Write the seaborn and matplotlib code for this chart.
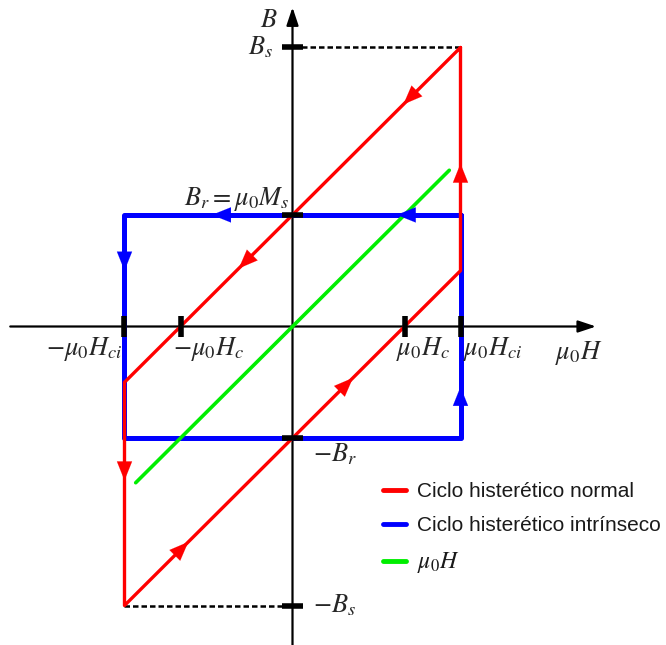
import numpy as np
import pandas as pd
import matplotlib
matplotlib.use("Agg")
import matplotlib.pyplot as plt
from matplotlib.lines import Line2D
import seaborn as sns

# Characteristic values of the loop (normalised units)
h_c = 1.0      # coercive field  mu0*Hc
h_ci = 1.5     # intrinsic coercive field mu0*Hci
b_r = 1.0      # remanence Br = mu0*Ms
b_s = 2.5      # saturation Bs

# Normal hysteresis loop (B vs mu0 H)
red_h = [1.5, -1.5, -1.5, 1.5, 1.5]
red_b = [2.5, -0.5, -2.5, 0.5, 2.5]
# Intrinsic hysteresis loop (mu0 M vs mu0 H)
blue_h = [1.5, -1.5, -1.5, 1.5, 1.5]
blue_b = [1.0, 1.0, -1.0, -1.0, 1.0]
# Vacuum contribution mu0 H
green_h = [-1.4, 1.4]
green_b = [-1.4, 1.4]

RED = "#ff0000"
BLUE = "#0000ff"
GREEN = "#00ee00"

sns.set_theme(style="white")
plt.rcParams["mathtext.fontset"] = "stix"
plt.rcParams["font.family"] = ["Liberation Sans", "DejaVu Sans"]

W, H = 666, 645
ox, oy = 292.5, 326.5      # origin in pixels
sx, sy = 112.0, 111.6      # pixels per unit

fig = plt.figure(figsize=(W / 100, H / 100), dpi=100)
ax = fig.add_axes([0, 0, 1, 1])
ax.set_axis_off()
ax.set_xlim(-ox / sx, (W - ox) / sx)
ax.set_ylim(-(H - oy) / sy, oy / sy)

# Coordinate axes with arrow heads
ax.annotate("", xy=(2.71, 0), xytext=(-2.52, 0),
            arrowprops=dict(arrowstyle="-|>,head_length=0.9,head_width=0.3",
                            color="black", lw=1.6, shrinkA=0, shrinkB=0),
            zorder=1)
ax.annotate("", xy=(0, 2.86), xytext=(0, -2.9),
            arrowprops=dict(arrowstyle="-|>,head_length=0.9,head_width=0.3",
                            color="black", lw=1.6, shrinkA=0, shrinkB=0),
            zorder=1)

# Dashed saturation guides
ax.plot([0, h_ci], [b_s, b_s], color="black", lw=1.8, ls=(0, (2.2, 1.2)), zorder=2)
ax.plot([-h_ci, 0], [-b_s, -b_s], color="black", lw=1.8, ls=(0, (2.2, 1.2)), zorder=2)

# Loops
blue_df = pd.DataFrame({"H": blue_h, "B": blue_b})
red_df = pd.DataFrame({"H": red_h, "B": red_b})
green_df = pd.DataFrame({"H": green_h, "B": green_b})
sns.lineplot(data=blue_df, x="H", y="B", sort=False, estimator=None,
             color=BLUE, lw=3.6, ax=ax, zorder=3)
sns.lineplot(data=green_df, x="H", y="B", sort=False, estimator=None,
             color=GREEN, lw=2.6, ax=ax, zorder=3)
sns.lineplot(data=red_df, x="H", y="B", sort=False, estimator=None,
             color=RED, lw=2.4, ax=ax, zorder=4)

# Tick marks on the axes
tk = 0.09
for xv in (-h_ci, -h_c, h_c, h_ci):
    ax.plot([xv, xv], [-tk, tk], color="black", lw=4, solid_capstyle="butt", zorder=5)
for yv in (b_s, b_r, -b_r, -b_s):
    ax.plot([-tk, tk], [yv, yv], color="black", lw=4, solid_capstyle="butt", zorder=5)


def arrows_on_path(hs, bs, marks, color):
    """Place arrow heads at fractions along given segments of a path."""
    for seg, frac in marks:
        x0, y0 = hs[seg], bs[seg]
        x1, y1 = hs[seg + 1], bs[seg + 1]
        px, py = x0 + frac * (x1 - x0), y0 + frac * (y1 - y0)
        d = np.hypot(x1 - x0, y1 - y0)
        ux, uy = (x1 - x0) / d, (y1 - y0) / d
        ax.annotate("", xy=(px, py), xytext=(px - 0.05 * ux, py - 0.05 * uy),
                    arrowprops=dict(arrowstyle="-|>,head_length=0.8,head_width=0.32",
                                    color=color, lw=0.1, shrinkA=0, shrinkB=0,
                                    mutation_scale=17),
                    zorder=6)


arrows_on_path(red_h, red_b, [(0, 0.17), (0, 0.66), (1, 0.44), (2, 0.19), (2, 0.68), (3, 0.48)], RED)
arrows_on_path(blue_h, blue_b, [(0, 0.19), (0, 0.74), (1, 0.25), (3, 0.23)], BLUE)

# Annotations
fs = 19
ax.text(-0.13, 2.75, r"$B$", fontsize=fs, ha="right", va="center")
ax.text(-0.17, 2.5, r"$B_s$", fontsize=fs, ha="right", va="center")
ax.text(-0.03, 1.14, r"$B_r=\mu_0M_s$", fontsize=fs, ha="right", va="center")
ax.text(-1.52, -0.2, r"$-\mu_0H_{ci}$", fontsize=fs, ha="right", va="center")
ax.text(-1.07, -0.2, r"$-\mu_0H_c$", fontsize=fs, ha="left", va="center")
ax.text(0.92, -0.2, r"$\mu_0H_c$", fontsize=fs, ha="left", va="center")
ax.text(1.52, -0.2, r"$\mu_0H_{ci}$", fontsize=fs, ha="left", va="center")
ax.text(2.34, -0.24, r"$\mu_0H$", fontsize=fs, ha="left", va="center")
ax.text(0.18, -1.14, r"$-B_r$", fontsize=fs, ha="left", va="center")
ax.text(0.18, -2.5, r"$-B_s$", fontsize=fs, ha="left", va="center")

# Legend
handles = [Line2D([], [], color=RED, lw=3.5),
           Line2D([], [], color=BLUE, lw=3.5),
           Line2D([], [], color=GREEN, lw=3.5)]
labels = ["Ciclo histerético normal", "Ciclo histerético intrínseco", r"$\mu_0H$"]
leg = ax.legend(handles, labels, loc="upper left",
                bbox_to_anchor=(375 / W, 1 - 474 / H),
                frameon=False, fontsize=15, handlelength=1.1, handletextpad=0.5,
                labelspacing=0.72, borderaxespad=0)
for t in leg.get_texts():
    t.set_color("#1a1a1a")
leg.get_texts()[2].set_fontsize(17)

fig.savefig("out.png", dpi=100)
